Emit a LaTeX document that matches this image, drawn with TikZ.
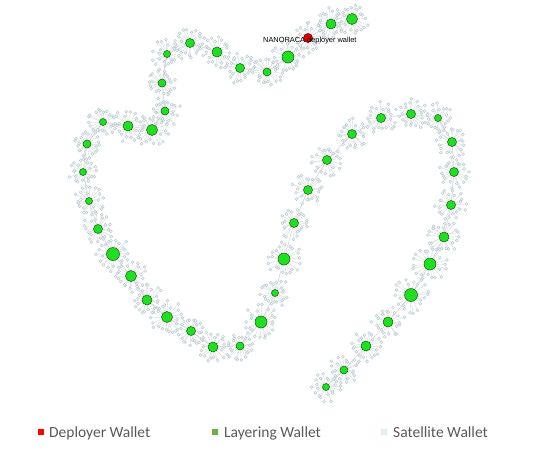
\documentclass[tikz,border=0pt]{standalone}
\usepackage{fontspec}
\setmainfont{Carlito}
\newfontfamily\labelfont{Liberation Sans}
\definecolor{layergreen}{HTML}{1FE01F}
\definecolor{layerline}{HTML}{0B5E0B}
\definecolor{deployred}{HTML}{E00000}
\definecolor{satfill}{HTML}{EEF7F7}
\definecolor{satline}{HTML}{AFC2C8}
\definecolor{spokegray}{HTML}{CFCFD8}
\definecolor{keygreen}{HTML}{70AD47}
\definecolor{keysat}{HTML}{DDF0F0}
\definecolor{keytext}{HTML}{595959}
\tikzset{
  link/.style={draw=spokegray,line width=0.5pt},
  spoke/.style={draw=spokegray,line width=0.3pt},
  sat/.style={circle,draw=satline,fill=satfill,line width=0.35pt,inner sep=0pt,minimum size=3pt},
  layer/.style={circle,draw=layerline,fill=layergreen,line width=0.5pt,inner sep=0pt},
  deploy/.style={circle,draw=black!70!red,fill=deployred,line width=0.5pt,inner sep=0pt},
  keybox/.style={inner sep=0pt,minimum size=6pt},
  keytext/.style={text=keytext,font=\fontsize{15.5}{18}\selectfont,inner sep=0pt,anchor=base west}
}
\def\wallets{352/19/5.5, 331/24/5, 308/38/4.5, 288/57/6, 267/72/4, 240/68/4.5,
  217/52/5, 190/43/4.5, 167/54/3.5, 162/83/4, 165/111/4, 152/130/5.5,
  128/126/5, 103/122/3.5, 87/144/4, 83/172/3.5, 89/201/3.5, 98/229/4.5,
  113/254/6.5, 131/276/5.5, 147/300/5, 167/317/5.5, 191/331/4.5, 213/347/5,
  240/346/4, 261/322/6, 275/293/3.5, 284/259/6, 294/223/4.5, 308/190/4.5,
  327/160/4.5, 352/134/4.5, 381/118/4.5, 411/114/4.5, 438/118/3.5, 452/142/4.5,
  454/172/4.5, 451/205/4.5, 444/237/5, 430/264/6, 411/295/6.5, 388/322/5,
  366/346/5, 344/370/4, 326/387/3.5}
\begin{document}
\begin{tikzpicture}[x=1pt,y=-1pt]
\useasboundingbox (0,0) rectangle (546,453);
\pgfmathsetseed{11}
\foreach \x/\y/\r [count=\i] in \wallets
  \coordinate (w\i) at (\x,\y);
\foreach \i [evaluate=\i as \j using int(\i+1)] in {1,...,44}
  \draw[link] (w\i) -- (w\j);
\foreach \x/\y/\r [count=\i] in \wallets {
  \foreach \k in {1,...,22} {
    \pgfmathsetmacro\ang{\k*360/22+rand*7}
    \pgfmathsetmacro\dist{\r+4+rnd*8}
    \path (w\i) ++(\ang:\dist) node[sat] (s\i-\k) {};
    \draw[spoke] (w\i) -- (s\i-\k);
  }
}
\foreach \x/\y/\r [count=\i] in \wallets {
  \ifnum\i=3
    \node[deploy,minimum size=2*\r] (n\i) at (w\i) {};
  \else
    \node[layer,minimum size=2*\r] (n\i) at (w\i) {};
  \fi
}
\node[font=\labelfont\fontsize{7.4}{9}\selectfont,inner sep=0pt,anchor=base west] (lab) at (263,42) {NANORACA deployer wallet};
\node[keybox,fill=red] (k1) at (40.5,431.8) {};
\node[keytext] (t1) at (49,437.3) {Deployer Wallet};
\node[keybox,fill=keygreen] (k2) at (215,431.8) {};
\node[keytext] (t2) at (224,437.3) {Layering Wallet};
\node[keybox,fill=keysat] (k3) at (384.4,431.8) {};
\node[keytext] (t3) at (393,437.3) {Satellite Wallet};
\end{tikzpicture}
\end{document}
